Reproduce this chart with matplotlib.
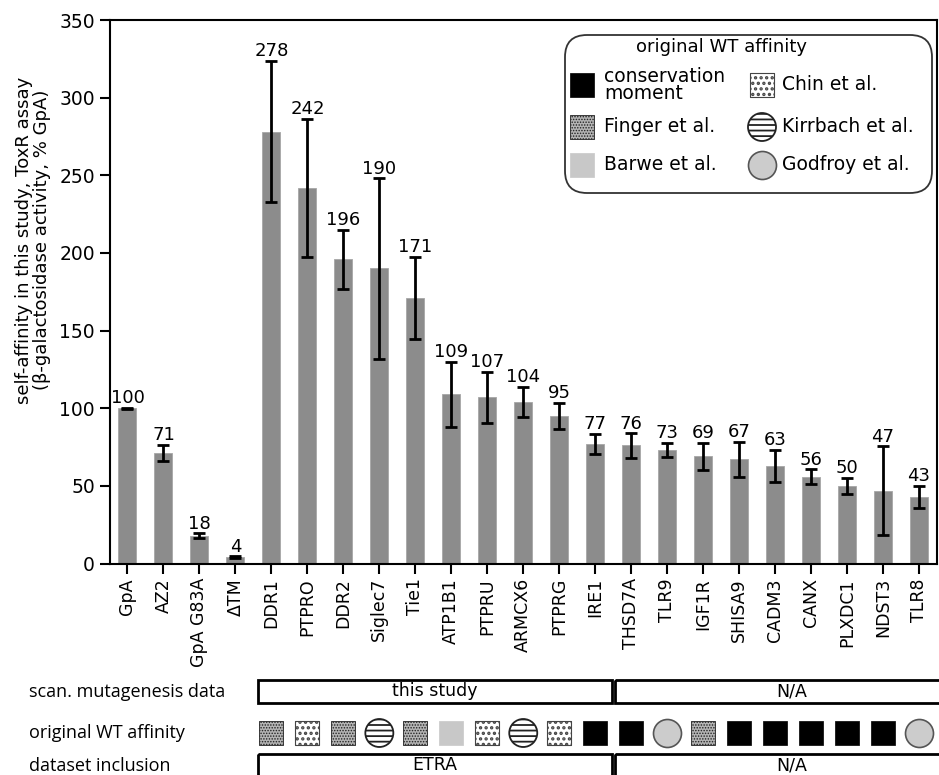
import matplotlib
matplotlib.use("Agg")
import matplotlib.pyplot as plt
from matplotlib.patches import Rectangle, FancyBboxPatch
import numpy as np

# ---------------- data ----------------
categories = ["GpA", "AZ2", "GpA G83A", "\u0394TM", "DDR1", "PTPRO", "DDR2", "Siglec7",
              "Tie1", "ATP1B1", "PTPRU", "ARMCX6", "PTPRG", "IRE1", "THSD7A", "TLR9",
              "IGF1R", "SHISA9", "CADM3", "CANX", "PLXDC1", "NDST3", "TLR8"]
values = [100, 71, 18, 4, 278, 242, 196, 190, 171, 109, 107, 104, 95, 77, 76, 73,
          69, 67, 63, 56, 50, 47, 43]
errors = [0.4, 5.2, 1.4, 0.6, 45.5, 44.5, 19, 58, 26.5, 21, 16.3, 9.7, 8.5, 6.4, 7.9,
          4.7, 8.8, 11.3, 10.2, 4.6, 5.3, 28.5, 7.0]
# original WT affinity source for DDR1 ... TLR8
affinity_source = ["Finger", "Chin", "Finger", "Kirrbach", "Finger", "Barwe", "Chin",
                   "Kirrbach", "Chin", "conservation", "conservation", "Godfroy",
                   "Finger", "conservation", "conservation", "conservation",
                   "conservation", "conservation", "Godfroy"]
first_marked = 4
row_labels = ["scan. mutagenesis data", "original WT affinity", "dataset inclusion"]
scan_groups = ["this study", "N/A"]
inclusion_groups = ["ETRA", "N/A"]
legend_entries = [("conservation", "conservation\nmoment"), ("Chin", "Chin et al."),
                  ("Finger", "Finger et al."), ("Kirrbach", "Kirrbach et al."),
                  ("Barwe", "Barwe et al."), ("Godfroy", "Godfroy et al.")]

W, H = 939, 775
plt.rcParams['font.family'] = ['DejaVu Sans']
plt.rcParams['hatch.linewidth'] = 0.8

fig = plt.figure(figsize=(W / 100, H / 100), dpi=100)

def px_axes(x0, y0, x1, y1):
    a = fig.add_axes([x0 / W, 1 - y1 / H, (x1 - x0) / W, (y1 - y0) / H])
    a.set_xlim(x0, x1)
    a.set_ylim(y1, y0)
    a.axis('off')
    return a

L, R, T, B = 109.5, 937, 20, 563.5
ax = fig.add_axes([L / W, 1 - B / H, (R - L) / W, (B - T) / H])
x = np.arange(len(categories))
ax.bar(x, values, width=0.5, color='#8c8c8c', edgecolor='#a6a6a6', linewidth=0.6, zorder=2)
ax.errorbar(x, values, yerr=errors, fmt='none', ecolor='black', elinewidth=2,
            capsize=4.5, capthick=2, zorder=3)
for xi, v, e in zip(x, values, errors):
    ax.annotate(str(v), (xi, v + e), xytext=(0, 0.5), textcoords='offset points',
                ha='center', va='bottom', fontsize=13)
ax.set_xlim(-0.5, len(categories) - 0.5)
ax.set_ylim(0, 350)
ax.set_yticks(range(0, 351, 50))
ax.set_xticks(x)
ax.set_xticklabels(categories, rotation=90, fontsize=12.5)
ax.tick_params(axis='y', labelsize=13.5, length=7, width=1.5, direction='out')
ax.tick_params(axis='x', length=7, width=1.5, direction='out')
for s in ax.spines.values():
    s.set_linewidth(1.5)
ax.set_ylabel("self-affinity in this study, ToxR assay\n(\u03b2-galactosidase activity, % GpA)",
              fontsize=13, linespacing=1.0)
ax.yaxis.set_label_coords(-0.071, 0.595)

# ---------- styles of affinity sources ----------
styles = {
    "conservation": dict(marker='s', size=24, fc='black', ec='black', hatch=None, lw=0.5, hlw=0.8),
    "Finger": dict(marker='s', size=24, fc='#b4b4b4', ec='#222222', hatch='......', lw=0.6, hlw=0.7),
    "Chin": dict(marker='s', size=24, fc='white', ec='#444444', hatch='...', lw=0.8, hlw=1.6),
    "Barwe": dict(marker='s', size=24, fc='#c8c8c8', ec='#c8c8c8', hatch=None, lw=0.5, hlw=0.8),
    "Kirrbach": dict(marker='o', size=28, fc='white', ec='#222222', hatch='---', lw=1.3, hlw=1.3),
    "Godfroy": dict(marker='o', size=28, fc='#cccccc', ec='#555555', hatch=None, lw=1.2, hlw=0.8),
}

def draw_marker(a, xs, ys, key):
    st = styles[key]
    sz = (st['size'] * 0.72) ** 2
    with plt.rc_context({'hatch.linewidth': st['hlw']}):
        coll = a.scatter(xs, ys, s=sz, marker=st['marker'], facecolor=st['fc'],
                         edgecolor=st['ec'], hatch=st['hatch'], linewidths=st['lw'],
                         clip_on=False, zorder=3)
    if hasattr(coll, 'set_hatch_linewidth'):
        coll.set_hatch_linewidth(st['hlw'])

# ---------- bottom annotation rows ----------
ax2 = fig.add_axes([L / W, 0, (R - L) / W, 115 / H])
ax2.set_xlim(ax.get_xlim())
ax2.set_ylim(775, 660)
ax2.axis('off')

row_y = [692, 733, 766]
for lab, yy in zip(row_labels, row_y):
    fig.text(29 / W, 1 - yy / H, lab, fontsize=13, family=['Open Sans', 'DejaVu Sans'],
             ha='left', va='center')

b1, b2, b3 = 3.63, 13.47, 13.55
for (y0, y1), groups in [((680, 703), scan_groups), ((754, 790), inclusion_groups)]:
    ax2.add_patch(Rectangle((b1, y0), b2 - b1, y1 - y0, fill=False, lw=2, ec='black',
                            clip_on=False))
    ax2.add_patch(Rectangle((b3, y0), 24 - b3, y1 - y0, fill=False, lw=2, ec='black',
                            clip_on=False))
    ty = y0 + 11.5
    ax2.text((b1 + b2) / 2, ty, groups[0], ha='center', va='center', fontsize=12.5)
    ax2.text(18.45, ty, groups[1], ha='center', va='center', fontsize=12.5)

for i, src in enumerate(affinity_source):
    draw_marker(ax2, [first_marked + i], [733], src)

# ---------- legend ----------
lg = px_axes(560, 30, 939, 200)
lg.add_patch(FancyBboxPatch((565, 35), 367, 158,
                            boxstyle="round,pad=0,rounding_size=22",
                            fc='white', ec='#333333', lw=1.3, zorder=1))
lg.text(722, 47, "original WT affinity", ha='center', va='center', fontsize=13)
cols = [(582, 604), (762, 782)]
rows = [85, 127, 165]
for k, (key, text) in enumerate(legend_entries):
    cx, tx = cols[k % 2]
    ry = rows[k // 2]
    draw_marker(lg, [cx], [ry], key)
    lg.text(tx, ry, text, ha='left', va='center', fontsize=13.5, linespacing=0.9,
            zorder=4)

fig.savefig("out.png", dpi=100)
